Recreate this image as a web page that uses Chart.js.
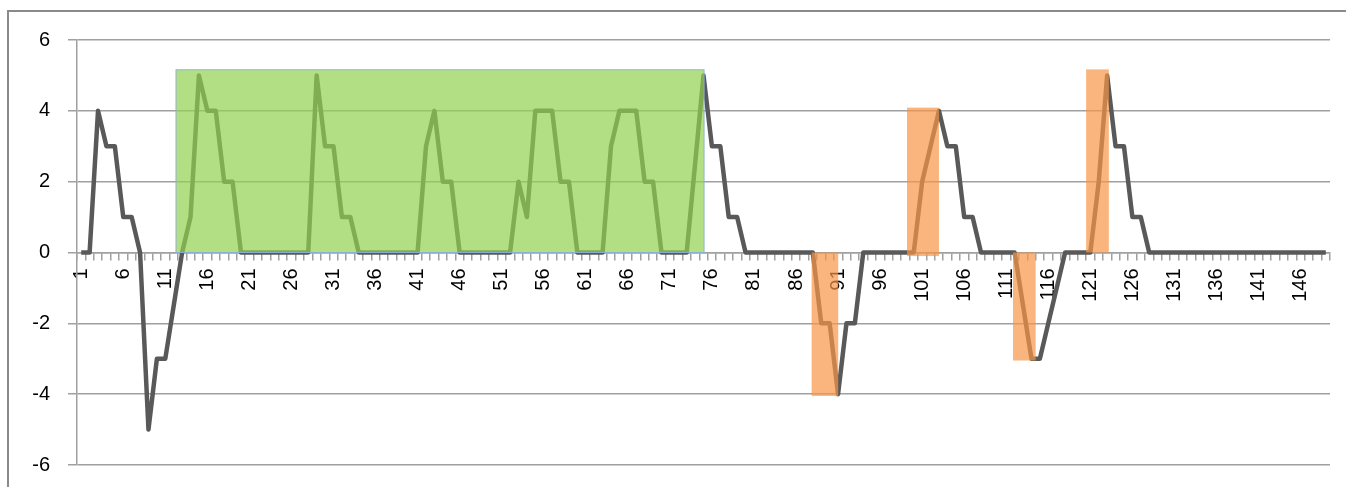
<!DOCTYPE html>
<html lang="en">

<head>
    <meta charset="UTF-8">
    <style>
        html, body { margin: 0; padding: 0; background: #fff; }
        #wrap { position: absolute; left: 0; top: 0; width: 1346px; height: 487px; }
    </style>
</head>

<body>

    <div id="wrap">
        <canvas id="myChart"></canvas>
    </div>

    <script src="https://cdn.jsdelivr.net/npm/chart.js"></script>

    <script>
        // categories 1..149, a label shown every 5th
        var categories = [];
        for (var i = 1; i <= 149; i++) categories.push(String(i));

        var values = [
            0, 0, 4, 3, 3, 1, 1, 0, -5, -3,
            -3, -1.5, 0, 1, 5, 4, 4, 2, 2, 0,
            0, 0, 0, 0, 0, 0, 0, 0, 5, 3,
            3, 1, 1, 0, 0, 0, 0, 0, 0, 0,
            0, 3, 4, 2, 2, 0, 0, 0, 0, 0,
            0, 0, 2, 1, 4, 4, 4, 2, 2, 0,
            0, 0, 0, 3, 4, 4, 4, 2, 2, 0,
            0, 0, 0, 2.5, 5, 3, 3, 1, 1, 0,
            0, 0, 0, 0, 0, 0, 0, 0, -2, -2,
            -4, -2, -2, 0, 0, 0, 0, 0, 0, 0,
            2, 3, 4, 3, 3, 1, 1, 0, 0, 0,
            0, 0, -1.5, -3, -3, -2, -1, 0, 0, 0,
            0, 2, 5, 3, 3, 1, 1, 0, 0, 0,
            0, 0, 0, 0, 0, 0, 0, 0, 0, 0,
            0, 0, 0, 0, 0, 0, 0, 0, 0
        ];

        var yTicks = [-6, -4, -2, 0, 2, 4, 6];

        // highlighted boxes, in category numbers and y values
        var boxStart = [12.27, 87.86, 99.2, 111.8, 120.5];
        var boxEnd = [75.07, 91.02, 103.0, 114.5, 123.2];
        var boxLow = [0, -4.05, -0.1, -3.05, 0];
        var boxHigh = [5.16, 0, 4.09, 0, 5.17];

        // outer frame of the chart object (left and top edges show)
        var framePlugin = {
            id: 'frame',
            beforeDraw: function (chart) {
                var ctx = chart.ctx;
                ctx.save();
                ctx.strokeStyle = '#8a8a8a';
                ctx.lineWidth = 2;
                ctx.beginPath();
                ctx.moveTo(8, chart.height);
                ctx.lineTo(8, 11);
                ctx.lineTo(chart.width, 11);
                ctx.stroke();
                ctx.restore();
            }
        };

        var boxPlugin = {
            id: 'boxes',
            afterDatasetsDraw: function (chart) {
                var ctx = chart.ctx;
                var xs = chart.scales.x, ys = chart.scales.y;
                ctx.save();
                for (var k = 0; k < boxStart.length; k++) {
                    var x1 = xs.getPixelForValue(boxStart[k] - 1);
                    var x2 = xs.getPixelForValue(boxEnd[k] - 1);
                    var y1 = ys.getPixelForValue(boxHigh[k]);
                    var y2 = ys.getPixelForValue(boxLow[k]);
                    if (k === 0) {
                        ctx.fillStyle = 'rgba(146, 208, 80, 0.7)';
                        ctx.fillRect(x1, y1, x2 - x1, y2 - y1);
                        ctx.strokeStyle = 'rgba(140, 175, 220, 0.9)';
                        ctx.lineWidth = 1;
                        ctx.strokeRect(x1, y1, x2 - x1, y2 - y1);
                    } else {
                        ctx.fillStyle = 'rgba(247, 150, 70, 0.7)';
                        ctx.fillRect(x1, y1, x2 - x1, y2 - y1);
                    }
                }
                ctx.restore();
            }
        };

        var chrt = document.getElementById("myChart").getContext("2d");
        var chartId = new Chart(chrt, {
            type: 'line',
            data: {
                labels: categories,
                datasets: [{
                    data: values,
                    borderColor: '#595959',
                    borderWidth: 4.5,
                    pointRadius: 0,
                    tension: 0,
                    borderJoinStyle: 'round',
                    fill: false
                }],
            },
            options: {
                responsive: true,
                maintainAspectRatio: false,
                animation: false,
                layout: { padding: { left: 0, right: 16, top: 40, bottom: 22 } },
                plugins: { legend: { display: false }, tooltip: { enabled: false } },
                scales: {
                    x: {
                        position: { y: 0 },
                        offset: true,
                        afterCalculateLabelRotation: function (s) { s.labelRotation = 90; },
                        afterFit: function (s) { s.height = 0; s.paddingLeft = 0; s.paddingRight = 0; },
                        grid: { drawOnChartArea: false, drawTicks: true, tickLength: 7, offset: true, color: '#a0a0a0', lineWidth: 1.5 },
                        border: { display: true, color: '#a0a0a0', width: 1.5 },
                        ticks: {
                            autoSkip: false, maxRotation: 90, minRotation: 90, padding: 9,
                            color: '#000', font: { size: 20 },
                            callback: function (v, idx) { return idx % 5 === 0 ? categories[idx] : ''; }
                        }
                    },
                    y: {
                        min: -6, max: 6,
                        afterFit: function (s) { s.width = 77; s.paddingTop = 0; s.paddingBottom = 0; },
                        afterBuildTicks: function (s) { s.ticks = yTicks.map(function (v) { return { value: v }; }); },
                        grid: { color: '#a0a0a0', lineWidth: 1.5, tickLength: 9 },
                        border: { display: true, color: '#a0a0a0', width: 1.5 },
                        ticks: { padding: 18, color: '#000', font: { size: 20 } }
                    }
                }
            },
            plugins: [framePlugin, boxPlugin]
        });
    </script>
</body>

</html>
